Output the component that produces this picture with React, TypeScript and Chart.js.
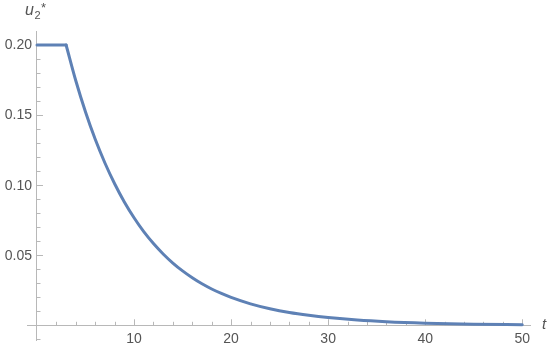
import React, { useEffect, useRef } from "react";
import { Chart, registerables } from "chart.js";

Chart.register(...registerables);

// time t: saturated phase, then decay phase
const tFlat = [0, 3];
const u2Flat = [0.2, 0.2];
const tDecay = [3, 4, 5, 6, 7, 8, 9, 10, 11, 12, 13, 14, 15, 16, 17, 18, 19, 20, 22, 24, 26, 28, 30, 33, 36, 40, 45, 50];
const u2Decay = [0.2, 0.1745, 0.1522, 0.1327, 0.1158, 0.101, 0.088, 0.0767, 0.0668, 0.0583, 0.0509, 0.0444, 0.0388, 0.0339, 0.0296, 0.0259, 0.0227, 0.0199, 0.0153, 0.0118, 0.0091, 0.0071, 0.0055, 0.0037, 0.0025, 0.0015, 0.0008, 0.0004];

const xTickLabels = [10, 20, 30, 40, 50];
const yTickLabels = [0.05, 0.1, 0.15, 0.2];

const X_MIN = -1.03;
const X_MAX = 50.8;
const Y_MIN = -0.0105;
const Y_MAX = 0.21;

const LINE_COLOR = "#5E81B5";
const AXIS_COLOR = "#b8b8b8";
const TEXT_COLOR = "#555555";
const FONT = "'Liberation Sans', Arial, sans-serif";

const axisDecor = {
  id: "axisDecor",
  beforeDatasetsDraw(chart: any) {
    const { ctx, scales } = chart;
    const xs = scales.x;
    const ys = scales.y;
    const x0 = xs.getPixelForValue(0);
    const y0 = ys.getPixelForValue(0);
    ctx.save();
    ctx.strokeStyle = AXIS_COLOR;
    ctx.lineWidth = 1;
    ctx.beginPath();
    for (let i = -1; i <= 20; i++) {
      if (i === 0) continue;
      const py = Math.round(ys.getPixelForValue(i / 100)) + 0.5;
      const len = i % 5 === 0 ? 6 : 3.5;
      ctx.moveTo(x0, py);
      ctx.lineTo(x0 + len, py);
    }
    for (let i = 2; i <= 50; i += 2) {
      const px = Math.round(xs.getPixelForValue(i)) + 0.5;
      const len = i % 10 === 0 ? 6 : 3.5;
      ctx.moveTo(px, y0);
      ctx.lineTo(px, y0 - len);
    }
    ctx.stroke();

    // tick labels
    ctx.fillStyle = TEXT_COLOR;
    ctx.font = `14px ${FONT}`;
    ctx.textBaseline = "middle";
    ctx.textAlign = "right";
    for (const v of yTickLabels) {
      ctx.fillText(v.toFixed(2), x0 - 5, ys.getPixelForValue(v) + 0.5);
    }
    ctx.textAlign = "center";
    for (const v of xTickLabels) {
      ctx.fillText(String(v), xs.getPixelForValue(v), y0 + 14);
    }
    ctx.restore();
  },
  afterDraw(chart: any) {
    const { ctx, scales } = chart;
    const ys = scales.y;
    const xs = scales.x;
    const x0 = xs.getPixelForValue(0);
    const yTop = ys.getPixelForValue(Y_MAX);
    ctx.save();
    ctx.fillStyle = TEXT_COLOR;
    ctx.textBaseline = "alphabetic";
    ctx.textAlign = "left";
    const bx = x0 - 12;
    const by = yTop - 16;
    ctx.font = `italic 16px ${FONT}`;
    ctx.fillText("u", bx, by);
    const uw = ctx.measureText("u").width;
    ctx.font = `11px ${FONT}`;
    ctx.fillText("2", bx + uw + 0.5, by + 4);
    ctx.font = `13px ${FONT}`;
    ctx.fillText("*", bx + uw + 7, by - 3);
    const y0 = ys.getPixelForValue(0);
    const xEnd = xs.getPixelForValue(X_MAX);
    ctx.font = `italic 15px ${FONT}`;
    ctx.fillText("t", xEnd + 12, y0 + 4);
    ctx.restore();
  },
};

export default function App() {
  const canvasRef = useRef<HTMLCanvasElement | null>(null);

  useEffect(() => {
    if (!canvasRef.current) return;
    const flat = tFlat.map((t, i) => ({ x: t, y: u2Flat[i] }));
    const decay = tDecay.map((t, i) => ({ x: t, y: u2Decay[i] }));
    const common = {
      borderColor: LINE_COLOR,
      borderWidth: 3,
      pointRadius: 0,
      fill: false,
      borderJoinStyle: "round",
      borderCapStyle: "round",
    };
    const chart = new Chart(canvasRef.current, {
      type: "line",
      data: {
        datasets: [
          { ...common, data: flat, tension: 0 } as any,
          { ...common, data: decay, cubicInterpolationMode: "monotone" } as any,
        ],
      },
      options: {
        animation: false,
        responsive: false,
        maintainAspectRatio: false,
        layout: { padding: { left: 27, top: 31, right: 20, bottom: 7 } },
        plugins: { legend: { display: false }, tooltip: { enabled: false } },
        scales: {
          x: {
            type: "linear",
            min: X_MIN,
            max: X_MAX,
            position: { y: 0 } as any,
            grid: { display: false, drawTicks: false },
            border: { display: true, color: AXIS_COLOR, width: 1 },
            ticks: { display: false },
            afterFit: (s: any) => {
              s.height = 0;
            },
          },
          y: {
            type: "linear",
            min: Y_MIN,
            max: Y_MAX,
            position: { x: 0 } as any,
            grid: { display: false, drawTicks: false },
            border: { display: true, color: AXIS_COLOR, width: 1 },
            ticks: { display: false },
            afterFit: (s: any) => {
              s.width = 0;
            },
          },
        },
      },
      plugins: [axisDecor],
    });
    return () => chart.destroy();
  }, []);

  return (
    <div style={{ position: "absolute", left: 0, top: 0, width: 550, height: 347 }}>
      <canvas ref={canvasRef} width={550} height={347} />
    </div>
  );
}
